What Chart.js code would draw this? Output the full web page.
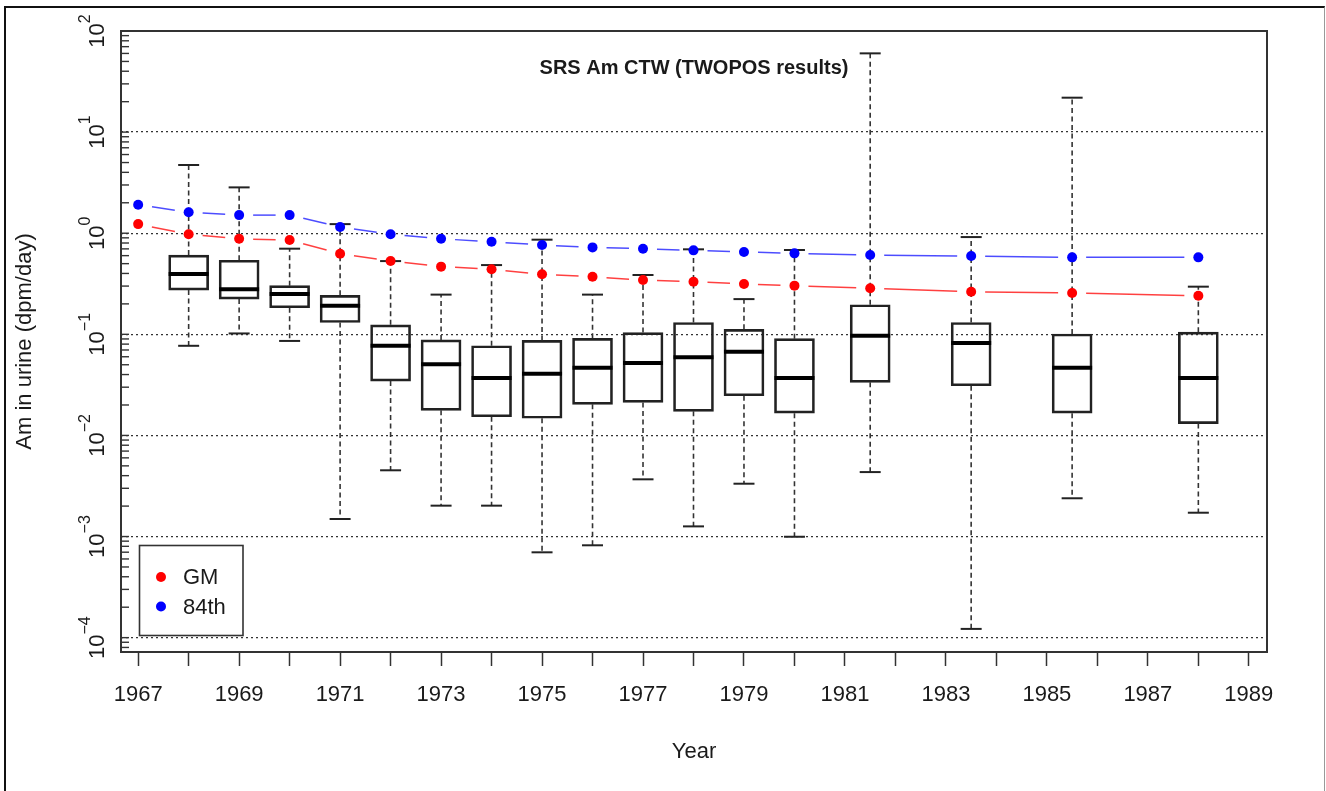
<!DOCTYPE html>
<html>
<head>
<meta charset="utf-8">
<title>SRS Am CTW (TWOPOS results)</title>
<script src="https://cdn.jsdelivr.net/npm/chart.js@4.4.1/dist/chart.umd.min.js"></script>
<style>
    html, body { margin: 0; padding: 0; background: #fff; }
    #wrap { position: relative; width: 1326px; height: 791px; }
    #frame { position: absolute; left: 4px; top: 6px; width: 1318px; height: 800px;
             border-left: 2px solid #111; border-top: 2px solid #111; border-right: 1px solid #999;
             pointer-events: none; }
</style>
</head>
<body>
<div id="wrap"><canvas id="chart"></canvas><div id="frame"></div></div>
<script>
// valeurs (échelle log)
const pointYears = [1967, 1968, 1969, 1970, 1971, 1972, 1973, 1974, 1975, 1976, 1977, 1978, 1979, 1980, 1981.5, 1983.5, 1985.5, 1988];
const gmValues   = [1.23, 0.975, 0.88, 0.857, 0.627, 0.531, 0.467, 0.44, 0.392, 0.371, 0.344, 0.331, 0.315, 0.303, 0.285, 0.264, 0.256, 0.241];
const p84Values  = [1.91, 1.61, 1.51, 1.51, 1.15, 0.975, 0.88, 0.824, 0.764, 0.724, 0.703, 0.677, 0.652, 0.632, 0.608, 0.594, 0.577, 0.577];

const boxYears    = [1968, 1969, 1970, 1971, 1972, 1973, 1974, 1975, 1976, 1977, 1978, 1979, 1980, 1981.5, 1983.5, 1985.5, 1988];
const whiskerHigh = [4.73, 2.84, 0.703, 1.23, 0.53, 0.247, 0.484, 0.863, 0.247, 0.386, 0.693, 0.223, 0.682, 60.1, 0.916, 21.9, 0.296];
const boxQ3       = [0.608, 0.54, 0.303, 0.243, 0.124, 0.088, 0.077, 0.087, 0.0912, 0.104, 0.131, 0.112, 0.0906, 0.196, 0.131, 0.1007, 0.105];
const boxMedian   = [0.394, 0.279, 0.251, 0.192, 0.077, 0.0505, 0.037, 0.0408, 0.0468, 0.052, 0.0592, 0.0674, 0.037, 0.0968, 0.082, 0.0468, 0.037];
const boxQ1       = [0.274, 0.223, 0.183, 0.131, 0.0345, 0.0177, 0.0153, 0.0148, 0.0203, 0.0212, 0.0173, 0.0247, 0.0166, 0.0335, 0.031, 0.0166, 0.0131];
const whiskerLow  = [0.077, 0.102, 0.086, 0.00149, 0.00452, 0.00202, 0.00202, 0.000698, 0.000819, 0.00368, 0.00126, 0.00333, 0.000995, 0.00434, 0.000122, 0.00239, 0.00172];

const xTickYears   = [1967, 1968, 1969, 1970, 1971, 1972, 1973, 1974, 1975, 1976, 1977, 1978, 1979, 1980, 1981, 1982, 1983, 1984, 1985, 1986, 1987, 1988, 1989];
const yDecades     = [1e-5, 1e-4, 1e-3, 1e-2, 1e-1, 1, 10, 100];
const yMajorTicks  = [1e-4, 1e-3, 1e-2, 1e-1, 1, 10, 100];
const yExponents   = ['\u22124', '\u22123', '\u22122', '\u22121', '0', '1', '2'];
const yMinorSteps  = [1, 2, 3, 4, 5, 6, 7, 8, 9];

const Y_MIN = 7.21e-5, Y_MAX = 100;
const FONT = '"Liberation Sans", Arial, Helvetica, sans-serif';

const yTickValues = [];
yDecades.forEach(d => yMinorSteps.forEach(m => {
    const v = m * d;
    if (v >= Y_MIN && v <= Y_MAX * 1.0001) yTickValues.push(v);
}));
const isMajor = v => yMajorTicks.some(m => Math.abs(Math.log10(v) - Math.log10(m)) < 1e-6);

// lignes continues avec un trou autour de chaque point (type "b" de R)
const gapDash = ctx => {
    const L = Math.hypot(ctx.p1.x - ctx.p0.x, ctx.p1.y - ctx.p0.y);
    const g = 14;
    return L > 2 * g ? [0, g, L - 2 * g, g] : [0, L];
};

const whiskerData = [];
boxYears.forEach((x, i) => {
    whiskerData.push({ x, y: boxQ3[i] }, { x, y: whiskerHigh[i] }, { x, y: null },
                     { x, y: boxQ1[i] }, { x, y: whiskerLow[i] }, { x, y: null });
});
const capData = [];
boxYears.forEach((x, i) => capData.push({ x, y: whiskerHigh[i] }, { x, y: whiskerLow[i] }));

const decor = {
    id: 'decor',
    afterDraw(chart) {
        const { ctx, chartArea: a, scales } = chart;
        const y = scales.y;
        ctx.save();
        // cadre du graphe
        ctx.strokeStyle = '#333';
        ctx.lineWidth = 2;
        ctx.strokeRect(a.left, a.top, a.right - a.left, a.bottom - a.top);
        // graduations intérieures de l'axe y
        ctx.lineWidth = 1.4;
        y.ticks.forEach(t => {
            const py = y.getPixelForValue(t.value);
            if (py < a.top - 0.5 || py > a.bottom + 0.5) return;
            ctx.beginPath();
            ctx.moveTo(a.left, py);
            ctx.lineTo(a.left + 8, py);
            ctx.stroke();
        });
        // étiquettes 10^k tournées
        ctx.fillStyle = '#1a1a1a';
        ctx.textBaseline = 'alphabetic';
        ctx.textAlign = 'left';
        yMajorTicks.forEach((v, i) => {
            const py = y.getPixelForValue(v);
            ctx.save();
            ctx.translate(103.5, py);
            ctx.rotate(-Math.PI / 2);
            ctx.font = '22px ' + FONT;
            const w10 = ctx.measureText('10').width;
            ctx.font = '16px ' + FONT;
            const wExp = ctx.measureText(yExponents[i]).width;
            const x0 = -(w10 + wExp) / 2;
            ctx.font = '22px ' + FONT;
            ctx.fillText('10', x0, 0);
            ctx.font = '16px ' + FONT;
            ctx.fillText(yExponents[i], x0 + w10, -14);
            ctx.restore();
        });
        // titre dans le graphe
        ctx.font = 'bold 20px ' + FONT;
        ctx.textAlign = 'center';
        ctx.fillText('SRS Am CTW (TWOPOS results)', 694, 74);
        // légende
        const ds = chart.data.datasets;
        ctx.fillStyle = '#fff';
        ctx.fillRect(139.5, 545.5, 103.5, 90);
        ctx.strokeStyle = '#333';
        ctx.lineWidth = 1.6;
        ctx.strokeRect(139.5, 545.5, 103.5, 90);
        [ds[0], ds[1]].forEach((d, i) => {
            const cy = 577 + i * 29.5;
            ctx.fillStyle = d.pointBackgroundColor;
            ctx.beginPath();
            ctx.arc(161, cy, 5, 0, Math.PI * 2);
            ctx.fill();
            ctx.fillStyle = '#1a1a1a';
            ctx.font = '22px ' + FONT;
            ctx.textAlign = 'left';
            ctx.textBaseline = 'middle';
            ctx.fillText(d.label, 183, cy + 1);
        });
        ctx.restore();
    }
};

Chart.defaults.font.family = FONT;
Chart.defaults.color = '#1a1a1a';

new Chart(document.getElementById('chart'), {
    type: 'bar',
    data: {
        datasets: [
            {
                type: 'line', label: 'GM',
                data: pointYears.map((x, i) => ({ x, y: gmValues[i] })),
                borderColor: 'rgba(255,0,0,0.75)', borderWidth: 1.5,
                pointBackgroundColor: '#ff0000', pointBorderWidth: 0, pointRadius: 5,
                segment: { borderDash: gapDash }
            },
            {
                type: 'line', label: '84th',
                data: pointYears.map((x, i) => ({ x, y: p84Values[i] })),
                borderColor: 'rgba(0,0,255,0.7)', borderWidth: 1.5,
                pointBackgroundColor: '#0000ff', pointBorderWidth: 0, pointRadius: 5,
                segment: { borderDash: gapDash }
            },
            {
                type: 'scatter', label: 'median',
                data: boxYears.map((x, i) => ({ x, y: boxMedian[i] })),
                pointStyle: 'line', pointRadius: 20, borderWidth: 4, borderColor: '#000'
            },
            {
                type: 'scatter', label: 'caps',
                data: capData,
                pointStyle: 'line', pointRadius: 10.5, borderWidth: 2, borderColor: '#222'
            },
            {
                type: 'line', label: 'whiskers',
                data: whiskerData,
                borderColor: '#333', borderWidth: 1.6, borderDash: [5, 3.5],
                pointRadius: 0, spanGaps: false
            },
            {
                type: 'bar', label: 'IQR',
                data: boxYears.map((x, i) => ({ x, y: [boxQ1[i], boxQ3[i]] })),
                backgroundColor: 'rgba(0,0,0,0)', borderColor: '#222', borderWidth: 2,
                borderSkipped: false, barThickness: 40
            }
        ]
    },
    options: {
        responsive: true, maintainAspectRatio: false, animation: false, devicePixelRatio: 1,
        layout: { padding: { left: 0, top: 31, right: 59, bottom: 0 } },
        plugins: { legend: { display: false }, tooltip: { enabled: false } },
        scales: {
            x: {
                type: 'linear', min: 1966.66, max: 1989.36, offset: false, bounds: 'data',
                afterBuildTicks: s => { s.ticks = xTickYears.map(v => ({ value: v })); },
                afterFit: s => { s.height = 139; },
                ticks: {
                    autoSkip: false, maxRotation: 0, padding: 16,
                    font: { size: 22 }, color: '#1a1a1a',
                    callback: v => (v % 2 === 1 ? String(v) : '')
                },
                grid: { drawOnChartArea: false, drawTicks: true, tickLength: 14, tickColor: '#333', tickWidth: 1.5, offset: false },
                border: { display: false },
                title: { display: true, text: 'Year', font: { size: 22 }, color: '#1a1a1a', padding: { top: 0, bottom: 26 } }
            },
            y: {
                type: 'logarithmic', min: Y_MIN, max: Y_MAX, bounds: 'data',
                afterBuildTicks: s => { s.ticks = yTickValues.map(v => ({ value: v })); },
                afterFit: s => { s.width = 121; },
                ticks: { display: false },
                grid: {
                    drawTicks: false, lineWidth: 1.3,
                    color: c => (c.tick && isMajor(c.tick.value) ? '#333' : 'rgba(0,0,0,0)')
                },
                border: { display: false, dash: [2, 3] },
                title: { display: true, text: 'Am in urine (dpm/day)', font: { size: 22 }, color: '#1a1a1a', padding: { top: 12, bottom: 0 } }
            }
        }
    },
    plugins: [decor]
});
</script>
</body>
</html>
